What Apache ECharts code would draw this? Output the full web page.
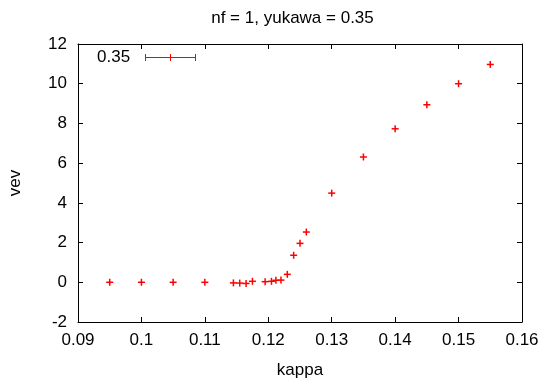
<!DOCTYPE html>
<html>
<head>
<meta charset="utf-8">
<script src="https://cdn.jsdelivr.net/npm/echarts@6/dist/echarts.min.js"></script>
<style>
  html, body { margin: 0; padding: 0; background: #fff; }
  #chart { width: 545px; height: 378px; }
</style>
</head>
<body>
<div id="chart"></div>
<script>
// data
var kappa = [0.095, 0.1, 0.105, 0.11, 0.1145, 0.1155, 0.1165, 0.1175, 0.1195, 0.1205,
  0.1212, 0.122, 0.123, 0.124, 0.125, 0.126, 0.13, 0.135, 0.14, 0.145, 0.15, 0.155];
var vev = [0.0, 0.0, 0.0, 0.0, -0.03, -0.04, -0.06, 0.05, 0.03, 0.05,
  0.1, 0.11, 0.4, 1.36, 1.96, 2.53, 4.49, 6.31, 7.73, 8.94, 10.0, 10.97];
var xTicks = [0.09, 0.16, 0.01];
var yTicks = [-2, 12, 2];
var legendLabel = '0.35';
var titleText = 'nf = 1, yukawa = 0.35';

var FONT = '"Liberation Sans", Arial, sans-serif';
var RED = '#ff0000';

var points = kappa.map(function (k, i) { return [k, vev[i]]; });

// gnuplot style '+' point
function renderPlus(params, api) {
  var p = api.coord([api.value(0), api.value(1)]);
  var h = 3.5;
  var style = { stroke: RED, lineWidth: 1.5 };
  return {
    type: 'group',
    children: [
      { type: 'line', shape: { x1: p[0] - h, y1: p[1], x2: p[0] + h, y2: p[1] }, style: style },
      { type: 'line', shape: { x1: p[0], y1: p[1] - h, x2: p[0], y2: p[1] + h }, style: style }
    ]
  };
}

var axisLine = { show: true, onZero: false, lineStyle: { color: '#000', width: 1 } };
var tick = { show: true, inside: true, length: 5, lineStyle: { color: '#000' } };
var label = { color: '#000', fontSize: 17, fontFamily: FONT };

// legend key: errorbar sample, drawn as thin filled rects
function keyRect(x, y, w, h) {
  return { type: 'rect', shape: { x: x, y: y, width: w, height: h }, style: { fill: RED }, z: 10 };
}

var chart = echarts.init(document.getElementById('chart'));
chart.setOption({
  animation: false,
  backgroundColor: '#fff',
  title: {
    text: titleText,
    left: 287.5,
    top: 5,
    textAlign: 'center',
    textStyle: { color: '#000', fontSize: 17, fontWeight: 'normal', fontFamily: FONT }
  },
  grid: { left: 78, right: 23, top: 44, bottom: 56, outerBoundsMode: 'none' },
  xAxis: [{
    type: 'value', min: xTicks[0], max: xTicks[1], interval: xTicks[2],
    name: 'kappa', nameLocation: 'middle', nameGap: 40,
    nameTextStyle: label,
    axisLine: axisLine, axisTick: tick,
    axisLabel: Object.assign({ margin: 10 }, label),
    splitLine: { show: false }
  }, {
    type: 'value', position: 'top', min: xTicks[0], max: xTicks[1], interval: xTicks[2],
    axisLine: axisLine, axisTick: tick, axisLabel: { show: false }, splitLine: { show: false }
  }],
  yAxis: [{
    type: 'value', min: yTicks[0], max: yTicks[1], interval: yTicks[2],
    name: 'vev', nameLocation: 'middle', nameGap: 54,
    nameTextStyle: label,
    axisLine: axisLine, axisTick: tick,
    axisLabel: Object.assign({ margin: 11 }, label),
    splitLine: { show: false }
  }, {
    type: 'value', position: 'right', min: yTicks[0], max: yTicks[1], interval: yTicks[2],
    axisLine: axisLine, axisTick: tick, axisLabel: { show: false }, splitLine: { show: false }
  }],
  graphic: [
    { type: 'text', left: 97, top: 49,
      style: { text: legendLabel, fill: '#000', font: '17px ' + FONT } },
    keyRect(145, 57, 51, 1),
    keyRect(145, 54, 1, 7),
    keyRect(195, 54, 1, 7),
    keyRect(170, 54, 1, 7)
  ],
  series: [{
    type: 'custom',
    name: legendLabel,
    renderItem: renderPlus,
    data: points,
    clip: false
  }]
});
</script>
</body>
</html>
